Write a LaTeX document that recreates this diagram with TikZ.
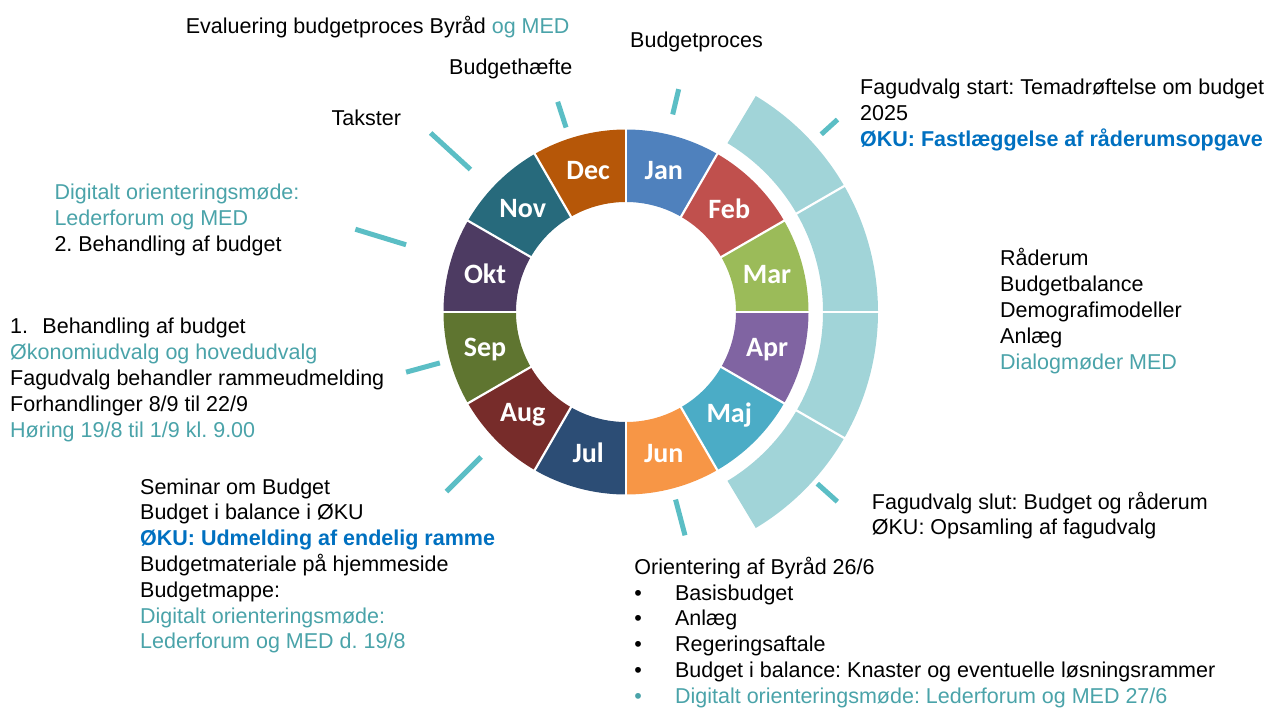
\documentclass[tikz,border=0pt]{standalone}
\usepackage{fontspec}
\setmainfont{Liberation Sans}
\newfontfamily\monthfont{Carlito}
\definecolor{janc}{HTML}{4F81BD}
\definecolor{febc}{HTML}{C0504D}
\definecolor{marc}{HTML}{9BBB59}
\definecolor{aprc}{HTML}{8064A2}
\definecolor{majc}{HTML}{4BACC6}
\definecolor{junc}{HTML}{F79646}
\definecolor{julc}{HTML}{2C4D75}
\definecolor{augc}{HTML}{772C2A}
\definecolor{sepc}{HTML}{5F7530}
\definecolor{oktc}{HTML}{4D3B62}
\definecolor{novc}{HTML}{276A7C}
\definecolor{decc}{HTML}{B65708}
\definecolor{ringc}{HTML}{A1D4D8}
\definecolor{tickc}{HTML}{5BBEC5}
\definecolor{tealtxt}{HTML}{4AA3A9}
\definecolor{bluetxt}{HTML}{0070C0}
\newcommand\tblock[1]{\begin{tabular}[t]{@{}l@{}}#1\end{tabular}}
\newcommand\tl[1]{\textcolor{tealtxt}{#1}}
\newcommand\bl[1]{\textcolor{bluetxt}{\bfseries #1}}
\frenchspacing
\begin{document}
\frenchspacing
\begin{tikzpicture}[x=1pt,y=-1pt,
  txt/.style={anchor=base west, inner sep=0pt, font=\frenchspacing\fontsize{21.5}{26}\selectfont},
  txtb/.style={anchor=base west, inner sep=0pt, font=\frenchspacing\fontsize{21.5}{25.8}\selectfont},
  txtc/.style={anchor=base west, inner sep=0pt, font=\frenchspacing\fontsize{21.5}{25}\selectfont},
  month/.style={text=white, inner sep=0pt, font=\monthfont\bfseries\fontsize{28}{28}\selectfont},
  tickmark/.style={draw=tickc, line width=5pt},
  sepline/.style={draw=white, line width=2.2pt}]
\useasboundingbox (0,0) rectangle (1271,720);

\begin{scope}[shift={(626,312)},yscale=-1]
  % outer light ring (Feb-May)
  \foreach \a/\b in {59/30,30/0,0/-30,-30/-59}{
    \fill[ringc] (\a:197) arc[start angle=\a,end angle=\b,radius=197] -- (\b:252) arc[start angle=\b,end angle=\a,radius=252] -- cycle;
  }
  \foreach \a in {30,0,-30}{
    \draw[sepline] (\a:195) -- (\a:254);
  }
  % month ring
  \foreach \i/\c/\n in {1/janc/Jan,2/febc/Feb,3/marc/Mar,4/aprc/Apr,5/majc/Maj,6/junc/Jun,7/julc/Jul,8/augc/Aug,9/sepc/Sep,10/oktc/Okt,11/novc/Nov,12/decc/Dec}{
    \pgfmathsetmacro\sa{120-30*\i}
    \pgfmathsetmacro\ea{90-30*\i}
    \pgfmathsetmacro\ma{105-30*\i}
    \fill[\c] (\sa:110) arc[start angle=\sa,end angle=\ea,radius=110] -- (\ea:182.5) arc[start angle=\ea,end angle=\sa,radius=182.5] -- cycle;
    \node[month] (m\i) at (\ma:146) {\n};
  }
  \foreach \a in {0,30,...,330}{
    \draw[sepline] (\a:108) -- (\a:184);
  }
  % tick marks
  \draw[tickmark] (76.7:203) -- (76.7:229);
  \draw[tickmark] (108:194) -- (108:221);
  \draw[tickmark] (137.5:211) -- (137.5:265);
  \draw[tickmark] (163:230) -- (163:283);
  \draw[tickmark] (195.3:193) -- (195.3:228);
  \draw[tickmark] (225:205) -- (225:254);
  \draw[tickmark] (284.8:194) -- (284.8:231);
  \draw[tickmark] (-41.9:257) -- (-41.9:284);
  \draw[tickmark] (42.3:264) -- (42.3:286);
\end{scope}

% texts
\node[txt] (evaluering) at (185.7,33.3) {Evaluering budgetproces Byråd \tl{og MED}};
\node[txt] (budgetproces) at (630,47) {Budgetproces};
\node[txt] (budgethaefte) at (449,74) {Budgethæfte};
\node[txt] (takster) at (331.4,125) {Takster};
\node[txt] (nov) at (54.3,199) {\tblock{\tl{Digitalt orienteringsmøde:}\\ \tl{Lederforum og MED}\\ 2. Behandling af budget}};
\node[txt] (sep) at (10,333.3) {\tblock{\makebox[32.3pt][l]{1.}Behandling af budget\\ \tl{Økonomiudvalg og hovedudvalg}\\ Fagudvalg behandler rammeudmelding\\ Forhandlinger 8/9 til 22/9\\ \tl{Høring 19/8 til 1/9 kl. 9.00}}};
\node[txtb] (aug) at (140,494) {\tblock{Seminar om Budget\\ Budget i balance i ØKU\\ \bl{ØKU: Udmelding af endelig ramme}\\ Budgetmateriale på hjemmeside\\ Budgetmappe:\\ \tl{Digitalt orienteringsmøde:}\\ \tl{Lederforum og MED d. 19/8}}};
\node[txtb] (jun) at (634.2,574.3) {\tblock{Orientering af Byråd 26/6\\ \makebox[40.7pt][l]{•}Basisbudget\\ \makebox[40.7pt][l]{•}Anlæg\\ \makebox[40.7pt][l]{•}Regeringsaftale\\ \makebox[40.7pt][l]{•}Budget i balance: Knaster og eventuelle løsningsrammer\\ \tl{\makebox[40.7pt][l]{•}Digitalt orienteringsmøde: Lederforum og MED 27/6}}};
\node[txtc] (slut) at (871.7,509.3) {\tblock{Fagudvalg slut: Budget og råderum\\ ØKU: Opsamling af fagudvalg}};
\node[txt] (start) at (860,94.3) {\tblock{Fagudvalg start: Temadrøftelse om budget\\ 2025\\ \bl{ØKU: Fastlæggelse af råderumsopgave}}};
\node[txt] (raaderum) at (1000,265) {\tblock{Råderum\\ Budgetbalance\\ Demografimodeller\\ Anlæg\\ \tl{Dialogmøder MED}}};
\end{tikzpicture}
\end{document}
